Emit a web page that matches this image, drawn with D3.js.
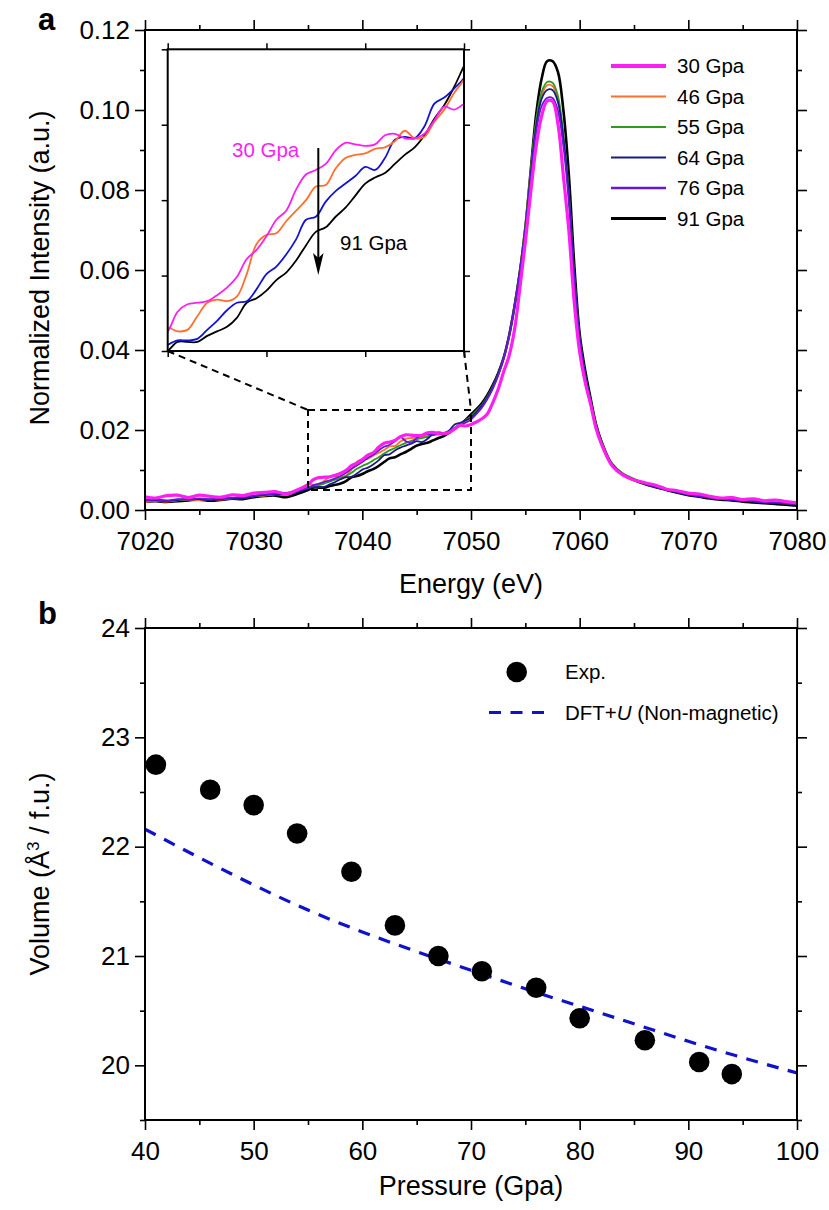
<!DOCTYPE html>
<html><head><meta charset="utf-8">
<script src="https://cdn.jsdelivr.net/npm/d3@7"></script>
<style>
body{margin:0;background:#fff;}
svg{display:block;font-family:"Liberation Sans",Arial,Helvetica,sans-serif;}
</style></head><body>
<svg id="chart" width="829" height="1210"></svg>
<script>
// ---------------- DATA (panel a) ----------------
const energy = [7020,7021,7022,7023,7024,7025,7026,7027,7028,7029,7030,7031,7032,7033,7034,
7035,7035.5,7036,7036.5,7037,7037.5,7038,7038.5,7039,7039.5,7040,7040.5,7041,7041.5,7042,7042.5,7043,7043.5,7044,7044.5,7045,7045.5,7046,7046.5,7047,7047.5,7048,7048.5,7049,7049.5,7050,
7050.5,7051,7051.5,7052,7052.5,7053,7053.5,7054,7054.5,7055,7055.5,7056,7056.5,7057,7057.5,7058,7058.5,7059,7059.5,7060,7060.5,7061,7061.5,7062,
7063,7064,7065,7066,7067,7068,7069,7070,7071,7072,7073,7074,7075,7076,7077,7078,7079,7080];

const int30 = [.0033,.0030,.0036,.0037,.0031,.0037,.0034,.0032,.0038,.0036,.0042,.0044,.0046,.0040,.0050,
.0063,.0076,.0081,.0082,.0083,.0087,.0092,.0099,.0111,.0117,.0126,.0137,.0143,.0157,.0167,.0170,.0174,.0183,.0188,.0187,.0186,.0187,.0193,.0194,.0191,.0191,.0194,.0203,.0212,.0210,.0214,
.0220,.0228,.0240,.0268,.0302,.0345,.0385,.0450,.0555,.0670,.0795,.0910,.0985,.1022,.1022,.0965,.0836,.0700,.0520,.0395,.0320,.0265,.0205,.0165,
.0110,.0087,.0075,.0068,.0062,.0052,.0048,.0042,.0040,.0034,.0030,.0031,.0026,.0028,.0023,.0025,.0021,.0018];

const int46 = [.0020,.0022,.0021,.0024,.0026,.0025,.0027,.0026,.0029,.0030,.0034,.0036,.0039,.0038,.0048,
.0065,.0063,.0064,.0073,.0082,.0084,.0083,.0086,.0101,.0121,.0127,.0128,.0136,.0143,.0150,.0159,.0160,.0171,.0178,.0180,.0181,.0184,.0185,.0189,.0196,.0191,.0192,.0202,.0210,.0221,.0230,
.0244,.0260,.0280,.0306,.0338,.0378,.0435,.0510,.0600,.0710,.0845,.0965,.1035,.1062,.1060,.1025,.0930,.0785,.0580,.0425,.0335,.0272,.0210,.0170,
.0115,.0090,.0077,.0066,.0058,.0052,.0045,.0040,.0035,.0032,.0028,.0026,.0024,.0022,.0021,.0019,.0017,.0015];

const int55 = [.0023,.0024,.0022,.0025,.0026,.0028,.0026,.0028,.0030,.0031,.0035,.0037,.0040,.0041,.0047,
.0057,.0060,.0062,.0066,.0071,.0076,.0080,.0085,.0093,.0103,.0110,.0116,.0124,.0132,.0141,.0149,.0155,.0162,.0168,.0173,.0177,.0180,.0183,.0187,.0192,.0193,.0197,.0205,.0214,.0224,.0234,
.0248,.0263,.0283,.0309,.0340,.0380,.0436,.0512,.0602,.0712,.0850,.0975,.1045,.1070,.1068,.1035,.0940,.0795,.0590,.0432,.0340,.0275,.0212,.0171,
.0116,.0091,.0078,.0067,.0058,.0051,.0045,.0039,.0035,.0031,.0028,.0026,.0023,.0022,.0020,.0018,.0016,.0014];

const int64 = [.0025,.0024,.0023,.0025,.0028,.0027,.0025,.0027,.0030,.0029,.0034,.0038,.0040,.0039,.0045,
.0054,.0057,.0057,.0058,.0064,.0070,.0077,.0082,.0083,.0091,.0101,.0106,.0114,.0124,.0137,.0139,.0149,.0156,.0161,.0166,.0172,.0170,.0178,.0190,.0192,.0191,.0199,.0214,.0218,.0224,.0231,
.0245,.0261,.0281,.0307,.0339,.0380,.0436,.0510,.0598,.0705,.0840,.0960,.1028,.1050,.1050,.1020,.0930,.0790,.0590,.0432,.0338,.0272,.0210,.0170,
.0114,.0089,.0076,.0066,.0057,.0050,.0044,.0038,.0034,.0031,.0027,.0025,.0023,.0021,.0019,.0017,.0016,.0014];

const int76 = [.0024,.0026,.0024,.0027,.0026,.0029,.0027,.0029,.0031,.0033,.0036,.0039,.0041,.0043,.0048,
.0055,.0062,.0066,.0070,.0074,.0079,.0085,.0093,.0103,.0111,.0120,.0130,.0138,.0149,.0158,.0163,.0172,.0183,.0172,.0168,.0180,.0186,.0190,.0188,.0189,.0192,.0196,.0204,.0212,.0218,.0226,
.0240,.0256,.0277,.0303,.0336,.0378,.0434,.0508,.0596,.0700,.0830,.0945,.1010,.1030,.1030,.0998,.0910,.0770,.0575,.0425,.0333,.0268,.0208,.0168,
.0113,.0088,.0076,.0066,.0058,.0051,.0045,.0039,.0035,.0031,.0028,.0026,.0024,.0022,.0020,.0019,.0017,.0015];

const int91 = [.0021,.0022,.0020,.0022,.0024,.0026,.0023,.0025,.0028,.0027,.0032,.0035,.0036,.0032,.0040,
.0050,.0056,.0056,.0056,.0060,.0063,.0066,.0072,.0082,.0085,.0090,.0097,.0102,.0110,.0120,.0129,.0132,.0139,.0145,.0153,.0161,.0165,.0168,.0174,.0180,.0185,.0193,.0204,.0213,.0225,.0239,
.0252,.0267,.0287,.0312,.0342,.0380,.0435,.0508,.0595,.0705,.0850,.0990,.1078,.1122,.1122,.1095,.1000,.0840,.0615,.0440,.0350,.0280,.0215,.0172,
.0112,.0088,.0075,.0065,.0057,.0050,.0043,.0037,.0033,.0029,.0026,.0024,.0021,.0019,.0017,.0015,.0013,.0011];

const seriesLabels = ["30 Gpa","46 Gpa","55 Gpa","64 Gpa","76 Gpa","91 Gpa"];
const seriesColors = ["#fb1ff0","#ff6f2e","#2f9a1c","#1a1a86","#6418d8","#000000"];
const seriesWidths = [3.2,1.8,1.8,1.8,1.8,2.6];
const legendWidths = [4,2,2,2,2.4,3];

const energyTicks = [7020,7030,7040,7050,7060,7070,7080];
const energyMinor = [7025,7035,7045,7055,7065,7075];
const intensityTicks = [0,0.02,0.04,0.06,0.08,0.10,0.12];
const intensityMinor = [0.01,0.03,0.05,0.07,0.09,0.11];
const insetXTicks = [7035,7040,7045,7050];
const insetYTicks = [0.005,0.010,0.015,0.020,0.025];
const insetSeries = [0,1,3,5];
const insetColors = ["#fb1ff0","#ff6f2e","#1414d0","#000000"];

// ---------------- DATA (panel b) ----------------
const pressureExp = [41,46,50,54,59,63,67,71,76,80,86,91,94];
const volumeExp = [22.75,22.52,22.38,22.12,21.77,21.28,21.00,20.86,20.71,20.43,20.23,20.03,19.92];
const pressureDFT = [40,45,50,55,60,65,70,75,80,85,90,95,100];
const volumeDFT = [22.16,21.90,21.65,21.42,21.22,21.04,20.87,20.70,20.54,20.38,20.22,20.07,19.93];
const pressureTicks = [40,50,60,70,80,90,100];
const pressureMinor = [45,55,65,75,85,95];
const volumeTicks = [20,21,22,23,24];
const volumeMinor = [19.5,20.5,21.5,22.5,23.5];

// ---------------- DRAW ----------------
const svg = d3.select('#chart');
const FONT = '"Liberation Sans",Arial,Helvetica,sans-serif';
const TICKFS = 26, TITLEFS = 27, LEGFS = 20.5;

function frame(g, x, y, cfg) {
  const [xa, xb] = x.range(), [yb, yt] = y.range();
  function ax(fn, scale, vals, size, fmt, tr, pad) {
    const a = fn(scale).tickValues(vals).tickSize(size).tickSizeOuter(0)
      .tickPadding(pad == null ? 4 : pad).tickFormat(fmt || (() => ''));
    const gg = g.append('g').attr('transform', tr).call(a);
    gg.select('.domain').remove();
    gg.selectAll('line').attr('stroke', '#000').attr('stroke-width', cfg.tw);
    gg.selectAll('text').attr('font-size', cfg.fs).attr('fill', '#000').attr('font-family', FONT);
    return gg;
  }
  ax(d3.axisBottom, x, cfg.xMajor, cfg.major, cfg.xFmt, `translate(0,${yb})`, cfg.xpad);
  ax(d3.axisBottom, x, cfg.xMinor, cfg.minor, null, `translate(0,${yb})`);
  ax(d3.axisTop, x, cfg.xMajor, cfg.major, null, `translate(0,${yt})`);
  ax(d3.axisTop, x, cfg.xMinor, cfg.minor, null, `translate(0,${yt})`);
  ax(d3.axisLeft, y, cfg.yMajor, cfg.major, cfg.yFmt, `translate(${xa},0)`, cfg.ypad);
  ax(d3.axisLeft, y, cfg.yMinor, cfg.minor, null, `translate(${xa},0)`);
  ax(d3.axisRight, y, cfg.yMajor, cfg.major, null, `translate(${xb},0)`);
  ax(d3.axisRight, y, cfg.yMinor, cfg.minor, null, `translate(${xb},0)`);
  g.append('rect').attr('x', xa).attr('y', yt).attr('width', xb - xa).attr('height', yb - yt)
    .attr('fill', 'none').attr('stroke', '#000').attr('stroke-width', cfg.bw);
}

// ===== Panel a =====
const gA = svg.append('g');
const xA = d3.scaleLinear().domain([7020, 7080]).range([145, 797]);
const yA = d3.scaleLinear().domain([0, 0.12]).range([510, 30]);
const allSeries = [int30, int46, int55, int64, int76, int91];

svg.append('defs').append('clipPath').attr('id', 'clipA')
  .append('rect').attr('x', 145).attr('y', 30).attr('width', 652).attr('height', 480);

const lineA = d3.line().x((d, i) => xA(energy[i])).y(d => yA(d)).curve(d3.curveCatmullRom.alpha(0.5));
const drawOrder = [5, 1, 2, 3, 4, 0];
const gLines = gA.append('g').attr('clip-path', 'url(#clipA)');
drawOrder.forEach(k => {
  gLines.append('path').datum(allSeries[k]).attr('d', lineA)
    .attr('fill', 'none').attr('stroke', seriesColors[k]).attr('stroke-width', seriesWidths[k])
    .attr('stroke-linejoin', 'round');
});

frame(gA, xA, yA, {
  xMajor: energyTicks, xMinor: energyMinor, yMajor: intensityTicks, yMinor: intensityMinor,
  major: 10, minor: 5, tw: 1.6, bw: 2, fs: TICKFS,
  xFmt: d3.format('d'), yFmt: d3.format('.2f'), xpad: 12, ypad: 5
});

// zoom rectangle + connectors
const rx0 = xA(7035), rx1 = xA(7050), ry0 = yA(0.025), ry1 = yA(0.005);
const dashA = '7,5';
gA.append('rect').attr('x', rx0).attr('y', ry0).attr('width', rx1 - rx0).attr('height', ry1 - ry0)
  .attr('fill', 'none').attr('stroke', '#000').attr('stroke-width', 2).attr('stroke-dasharray', dashA);

// inset
const xI = d3.scaleLinear().domain([7035, 7050]).range([167.7, 464]);
const yI = d3.scaleLinear().domain([0.005, 0.025]).range([351, 49.3]);
gA.append('line').attr('x1', xI(7035)).attr('y1', yI(0.005)).attr('x2', rx0).attr('y2', ry0)
  .attr('stroke', '#000').attr('stroke-width', 2).attr('stroke-dasharray', dashA);
gA.append('line').attr('x1', xI(7050)).attr('y1', yI(0.005)).attr('x2', rx1).attr('y2', ry0)
  .attr('stroke', '#000').attr('stroke-width', 2).attr('stroke-dasharray', dashA);

const gI = svg.append('g');
gI.append('rect').attr('x', 167.7).attr('y', 49.3).attr('width', 464 - 167.7).attr('height', 351 - 49.3).attr('fill', '#fff');
svg.select('defs').append('clipPath').attr('id', 'clipI')
  .append('rect').attr('x', 167.7).attr('y', 49.3).attr('width', 464 - 167.7).attr('height', 351 - 49.3);
const lineI = d3.line().x((d, i) => xI(energy[i])).y(d => yI(d)).curve(d3.curveCatmullRom.alpha(0.5));
const gIL = gI.append('g').attr('clip-path', 'url(#clipI)');
[3, 2, 1, 0].forEach(j => {
  const k = insetSeries[j];
  gIL.append('path').datum(allSeries[k]).attr('d', lineI)
    .attr('fill', 'none').attr('stroke', insetColors[j]).attr('stroke-width', 1.8);
});
frame(gI, xI, yI, {
  xMajor: insetXTicks, xMinor: [], yMajor: insetYTicks, yMinor: [],
  major: 6, minor: 0, tw: 1.5, bw: 2, fs: 0, xFmt: () => '', yFmt: () => ''
});
gI.append('text').attr('x', 232).attr('y', 157).attr('font-size', LEGFS).attr('fill', insetColors[0]).text(seriesLabels[0]);
gI.append('text').attr('x', 340).attr('y', 250).attr('font-size', LEGFS).attr('fill', '#000').text(seriesLabels[5]);
// arrow
gI.append('line').attr('x1', 318.3).attr('y1', 148).attr('x2', 318.3).attr('y2', 262)
  .attr('stroke', '#000').attr('stroke-width', 2);
gI.append('path').attr('d', 'M318.3,275 L313,253 L318.3,258 L323.6,253 Z').attr('fill', '#000');

// legend a
const legA = gA.append('g');
seriesLabels.forEach((lab, k) => {
  const yy = 66 + k * 30.5;
  legA.append('line').attr('x1', 611).attr('x2', 666).attr('y1', yy).attr('y2', yy)
    .attr('stroke', seriesColors[k]).attr('stroke-width', legendWidths[k]);
  legA.append('text').attr('x', 677).attr('y', yy).attr('dy', '0.36em').attr('font-size', LEGFS).text(lab);
});

// titles a
gA.append('text').attr('x', 471).attr('y', 593).attr('text-anchor', 'middle').attr('font-size', TITLEFS).text('Energy (eV)');
gA.append('text').attr('transform', 'translate(49,268) rotate(-90)').attr('text-anchor', 'middle')
  .attr('font-size', TITLEFS).text('Normalized Intensity (a.u.)');
svg.append('text').attr('x', 38).attr('y', 30).attr('font-size', 31).attr('font-weight', 'bold').text('a');

// ===== Panel b =====
const gB = svg.append('g');
const xB = d3.scaleLinear().domain([40, 100]).range([145, 797]);
const yB = d3.scaleLinear().domain([19.5, 24]).range([1120, 628]);
svg.select('defs').append('clipPath').attr('id', 'clipB')
  .append('rect').attr('x', 145).attr('y', 628).attr('width', 652).attr('height', 492);

const DFTC = '#0f12c9';
const lineB = d3.line().x((d, i) => xB(pressureDFT[i])).y(d => yB(d)).curve(d3.curveMonotoneX);
gB.append('path').datum(volumeDFT).attr('d', lineB).attr('clip-path', 'url(#clipB)')
  .attr('fill', 'none').attr('stroke', DFTC).attr('stroke-width', 3.2).attr('stroke-dasharray', '12,9.5');

gB.append('g').selectAll('circle').data(volumeExp).join('circle')
  .attr('cx', (d, i) => xB(pressureExp[i])).attr('cy', d => yB(d)).attr('r', 10.3).attr('fill', '#000');

frame(gB, xB, yB, {
  xMajor: pressureTicks, xMinor: pressureMinor, yMajor: volumeTicks, yMinor: volumeMinor,
  major: 10, minor: 5, tw: 1.6, bw: 2, fs: TICKFS,
  xFmt: d3.format('d'), yFmt: d3.format('d'), xpad: 12, ypad: 5
});

// legend b
gB.append('circle').attr('cx', 516.7).attr('cy', 672).attr('r', 10.3).attr('fill', '#000');
gB.append('text').attr('x', 565).attr('y', 672).attr('dy', '0.36em').attr('font-size', LEGFS).text('Exp.');
gB.append('line').attr('x1', 489).attr('x2', 545).attr('y1', 712.5).attr('y2', 712.5)
  .attr('stroke', DFTC).attr('stroke-width', 3.2).attr('stroke-dasharray', '12,9.5');
const tDFT = gB.append('text').attr('x', 565).attr('y', 712.5).attr('dy', '0.36em').attr('font-size', LEGFS);
tDFT.append('tspan').text('DFT+');
tDFT.append('tspan').attr('font-style', 'italic').text('U');
tDFT.append('tspan').text(' (Non-magnetic)');

// titles b
gB.append('text').attr('x', 471).attr('y', 1195).attr('text-anchor', 'middle').attr('font-size', TITLEFS).text('Pressure (Gpa)');
const tV = gB.append('text').attr('transform', 'translate(49,874) rotate(-90)').attr('text-anchor', 'middle').attr('font-size', TITLEFS);
tV.append('tspan').text('Volume (Å');
tV.append('tspan').attr('font-size', 17).attr('dy', -10).text('3');
tV.append('tspan').attr('dy', 10).text(' / f.u.)');
svg.append('text').attr('x', 38).attr('y', 624).attr('font-size', 31).attr('font-weight', 'bold').text('b');
</script></body></html>
